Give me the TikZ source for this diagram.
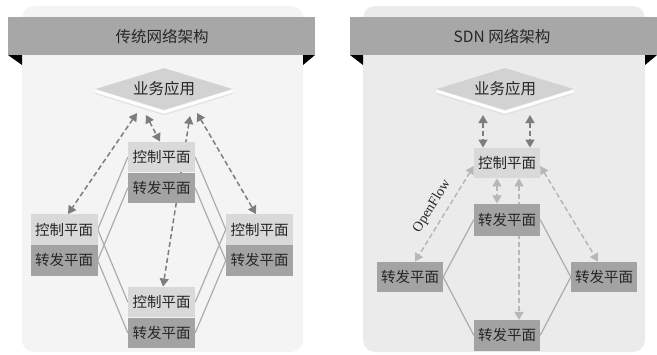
\documentclass[tikz,border=0pt]{standalone}
\usepackage{fontspec}
\newfontfamily\cjk{Noto Sans CJK SC}
\newfontfamily\tms{Liberation Serif}
\usetikzlibrary{positioning,shapes.geometric,arrows.meta}
\definecolor{panelgray}{HTML}{F4F4F4}
\definecolor{panelgrayb}{HTML}{EBEBEB}
\definecolor{headgray}{HTML}{A7A7A7}
\definecolor{ctrlgray}{HTML}{D9D9D9}
\definecolor{fwdgray}{HTML}{A3A3A3}
\definecolor{appgray}{HTML}{D2D2D2}
\definecolor{linegray}{HTML}{ACACAC}
\definecolor{dashdark}{HTML}{7D7D7D}
\definecolor{dashlight}{HTML}{B7B7B7}
\pgfdeclarelayer{bg}
\pgfdeclarelayer{mid}
\pgfsetlayers{bg,mid,main}
\tikzset{
  plane/.style={minimum width=67pt, minimum height=30.5pt, inner sep=0pt, text=black!85, font=\cjk\fontsize{14.5}{16}\selectfont},
  ctrl/.style={plane, fill=ctrlgray},
  fwd/.style={plane, fill=fwdgray},
  app/.style={diamond, aspect=3.2, fill=appgray, minimum width=137pt, minimum height=42pt, inner sep=0pt, text=black!85, font=\cjk\fontsize{15.5}{17}\selectfont},
  rim/.style={white, line width=2.5pt},
  link/.style={draw=linegray, line width=1.2pt},
  darr/.style={line width=1.5pt, dash pattern=on 5pt off 3pt, {Triangle[length=8pt,width=9pt]}-{Triangle[length=8pt,width=9pt]}},
  title/.style={font=\cjk\fontsize{15.5}{17}\selectfont, text=black!85}
}
\begin{document}
\begin{tikzpicture}[x=1pt,y=-1pt]
\useasboundingbox (0,0) rectangle (657,354);
\begin{pgfonlayer}{bg}
\fill[panelgray,rounded corners=12pt] (22,6) rectangle (303,352);
\fill[panelgrayb,rounded corners=12pt] (363,6) rectangle (645,352);
\fill[headgray] (8,17) rectangle (315,55);
\fill[headgray] (350,17) rectangle (657,55);
\fill (8,55) -- (22,55) -- (22,65) -- cycle;
\fill (303,55) -- (315,55) -- (303,65) -- cycle;
\fill (350,55) -- (363,55) -- (363,65) -- cycle;
\fill (645,55) -- (657,55) -- (645,65) -- cycle;
\end{pgfonlayer}

\node[title] (ltitle) at (162,37) {传统网络架构};
\node[title] (rtitle) at (502,37) {SDN 网络架构};

% traditional
\node[app] (lapp) at (164,89) {业务应用};
\node[ctrl] (ltc) at (161.5,157) {控制平面};
\node[fwd,below=0pt of ltc] (ltf) {转发平面};
\node[ctrl] (llc) at (64,229.5) {控制平面};
\node[fwd,below=0pt of llc] (llf) {转发平面};
\node[ctrl] (lrc) at (259.5,229.5) {控制平面};
\node[fwd,below=0pt of lrc] (lrf) {转发平面};
\node[ctrl] (lbc) at (161.5,302) {控制平面};
\node[fwd,below=0pt of lbc] (lbf) {转发平面};

% SDN
\node[app] (rapp) at (505,89) {业务应用};
\node[ctrl,minimum width=66pt] (rctl) at (507,163) {控制平面};
\node[fwd,minimum width=66pt,minimum height=32pt,below=25pt of rctl] (rtf) {转发平面};
\node[fwd,minimum width=66pt] (rlf) at (410,277) {转发平面};
\node[fwd,minimum width=66pt] (rrf) at (604,277) {转发平面};
\node[fwd,minimum width=66pt,below=84pt of rtf] (rbf) {转发平面};

\coordinate (la1) at (137,113);
\coordinate (la2) at (146,115);
\coordinate (la3) at (190,116);
\coordinate (la4) at (197,113);
\coordinate (ra1) at (483,115);
\coordinate (ra2) at (530,115);

\begin{pgfonlayer}{bg}
\draw[black!12,line width=1pt] ([yshift=-4.5pt]lapp.west) -- ([yshift=-4.5pt]lapp.south) -- ([yshift=-4.5pt]lapp.east);
\draw[rim] ([yshift=-2pt]lapp.west) -- ([yshift=-2pt]lapp.south) -- ([yshift=-2pt]lapp.east);
\draw[black!12,line width=1pt] ([yshift=-4.5pt]rapp.west) -- ([yshift=-4.5pt]rapp.south) -- ([yshift=-4.5pt]rapp.east);
\draw[rim] ([yshift=-2pt]rapp.west) -- ([yshift=-2pt]rapp.south) -- ([yshift=-2pt]rapp.east);
\end{pgfonlayer}

\begin{pgfonlayer}{mid}
\draw[link] (ltc.west) -- (llc.east) -- (lbc.west);
\draw[link] (ltf.west) -- (llf.east) -- (lbf.west);
\draw[link] (ltc.east) -- (lrc.west) -- (lbc.east);
\draw[link] (ltf.east) -- (lrf.west) -- (lbf.east);
\draw[link] (rtf.west) -- (rlf.east) -- (rbf.west);
\draw[link] (rtf.east) -- (rrf.west) -- (rbf.east);

\draw[darr,dashdark] (la1) -- ([xshift=4pt]llc.north);
\draw[darr,dashdark] (la2) -- ([xshift=-1.5pt]ltc.north);
\draw[darr,dashdark] (la3) -- ([xshift=1.5pt]lbc.north);
\draw[darr,dashdark] (la4) -- ([xshift=-3.5pt]lrc.north);

\draw[darr,dashdark] (ra1) -- (ra1 |- rctl.north);
\draw[darr,dashdark] (ra2) -- (ra2 |- rctl.north);
\draw[darr,dashlight] ([xshift=-10pt]rctl.south) -- ([xshift=-10pt]rtf.north);
\draw[darr,dashlight] ([xshift=12pt]rctl.south) -- ([xshift=12pt]rbf.north);
\draw[darr,dashlight] ([yshift=-3pt]rctl.west) -- node[sloped,above=4pt,font=\tms\fontsize{14}{16}\selectfont,text=black!85] (of) {OpenFlow} ([xshift=5pt]rlf.north);
\draw[darr,dashlight] ([yshift=-3pt]rctl.east) -- ([xshift=-6pt]rrf.north);
\end{pgfonlayer}
\end{tikzpicture}
\end{document}
